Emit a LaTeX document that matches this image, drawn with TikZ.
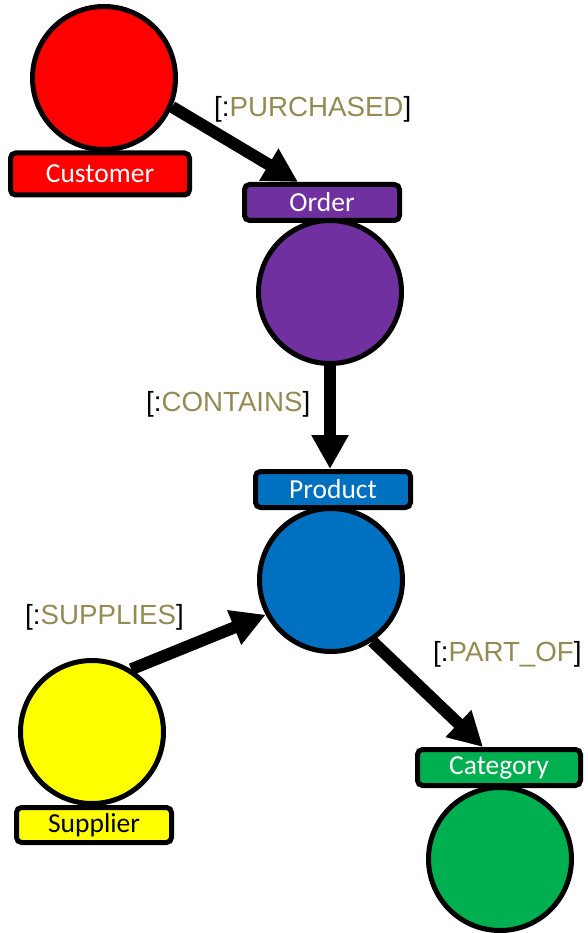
\documentclass[tikz,border=0pt]{standalone}
\usepackage{fontspec}
\newfontfamily\labelfont{Carlito}
\newfontfamily\relfont{Liberation Sans}
\usetikzlibrary{arrows.meta,calc}
\definecolor{nred}{HTML}{FF0000}
\definecolor{npurple}{HTML}{7030A0}
\definecolor{nblue}{HTML}{0070C0}
\definecolor{nyellow}{HTML}{FFFF00}
\definecolor{ngreen}{HTML}{00B050}
\definecolor{relname}{HTML}{948A54}
\begin{document}
\begin{tikzpicture}[x=1pt,y=-1pt,
  entity/.style={circle,draw=black,line width=5pt,minimum size=143pt,inner sep=0pt},
  tag/.style={rectangle,rounded corners=5pt,draw=black,line width=5pt,
    minimum height=36pt,inner sep=0pt,font=\labelfont\fontsize{27.5}{30}\selectfont},
  rel/.style={draw=black,line width=12pt,-{Triangle[length=34pt,width=35pt]}},
  reltext/.style={anchor=base west,inner sep=0pt,font=\relfont\fontsize{27.7}{32}\selectfont}
]
\useasboundingbox (0,0) rectangle (587,933);

% entities and their tags
\node[entity,fill=nred] (cust) at (104,78) {};
\node[tag,fill=nred,text=white,minimum width=179pt,minimum height=42pt] (clabel) at (100,174) {Customer};

\node[tag,fill=npurple,text=white,minimum width=155pt] (olab) at (322,202.5) {Order};
\node[entity,fill=npurple] (ord) at (330,292) {};

\node[tag,fill=nblue,text=white,minimum width=155pt] (plab) at (333,489.5) {Product};
\node[entity,fill=nblue] (prod) at (331,580) {};

\node[entity,fill=nyellow] (sup) at (92,732) {};
\node[tag,fill=nyellow,text=black,minimum width=155pt,minimum height=35pt] (slab) at (94,825) {Supplier};

\node[tag,fill=ngreen,text=white,minimum width=163pt] (catlab) at (499,767.5) {Category};
\node[entity,fill=ngreen] (cat) at (500,859) {};

% relationships
\draw[rel] (cust.-23) -- ([xshift=-24pt]olab.north);
\draw[rel] (ord.south) -- (ord.south |- plab.north);
\draw[rel] (sup.58) -- (prod.208);
\draw[rel] (prod.-56) -- ([xshift=-16pt]catlab.north);

% relationship names
\node[reltext] (tpurch) at (214,117) {[:\textcolor{relname}{PURCHASED}]};
\node[reltext] (tcont) at (146,411) {[:\textcolor{relname}{CONTAINS}]};
\node[reltext] (tsupp) at (25,624) {[:\textcolor{relname}{SUPPLIES}]};
\node[reltext] (tpart) at (433,661) {[:\textcolor{relname}{PART\_OF}]};
\end{tikzpicture}
\end{document}
